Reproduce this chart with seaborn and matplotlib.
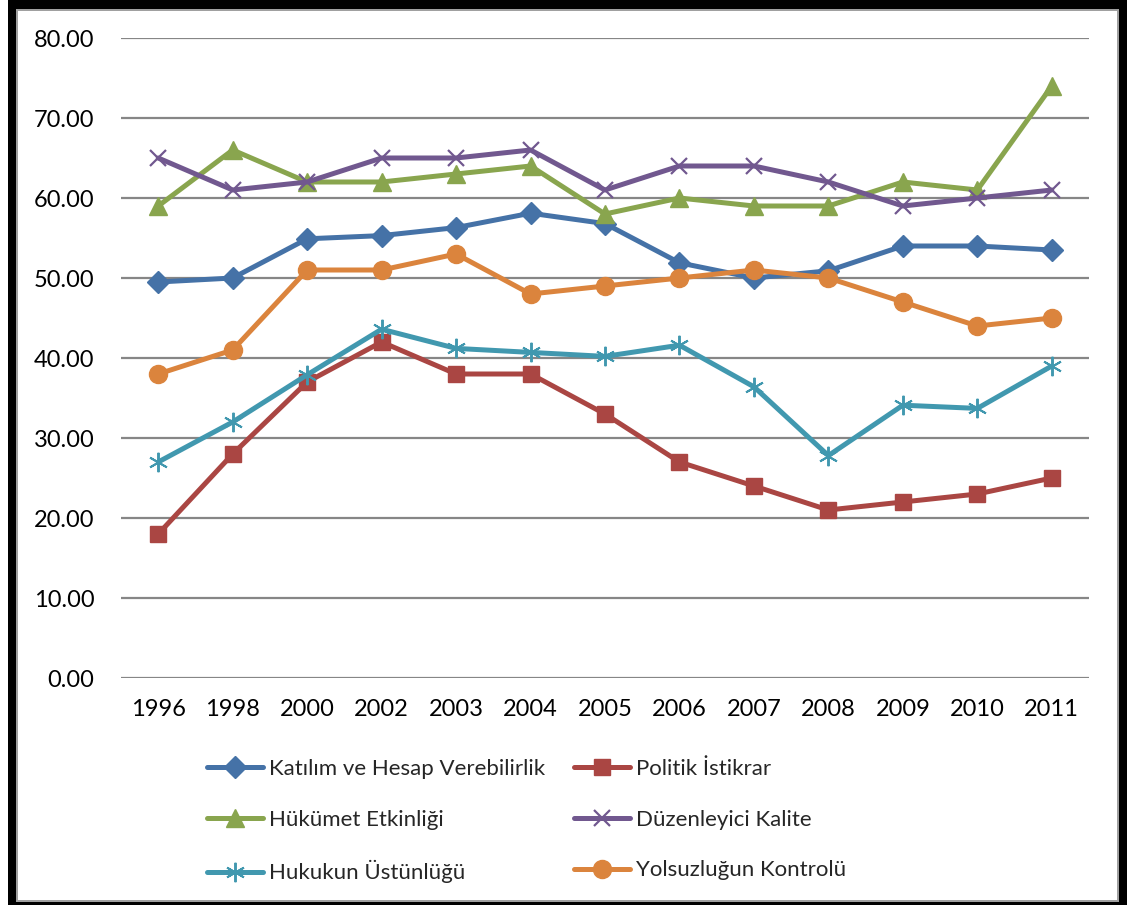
import matplotlib
matplotlib.use("Agg")
import matplotlib.pyplot as plt
from matplotlib.patches import Rectangle
import seaborn as sns
import pandas as pd

years = ["1996", "1998", "2000", "2002", "2003", "2004", "2005",
         "2006", "2007", "2008", "2009", "2010", "2011"]
katilim = [49.5, 50.0, 54.9, 55.3, 56.3, 58.1, 56.8, 51.9, 50.0, 50.9, 54.0, 54.0, 53.5]
politik = [18, 28, 37, 42, 38, 38, 33, 27, 24, 21, 22, 23, 25]
hukumet = [59, 66, 62, 62, 63, 64, 58, 60, 59, 59, 62, 61, 74]
duzenleyici = [65, 61, 62, 65, 65, 66, 61, 64, 64, 62, 59, 60, 61]
hukukun = [27.0, 32.0, 37.9, 43.6, 41.2, 40.7, 40.2, 41.6, 36.4, 27.8, 34.1, 33.7, 39.0]
yolsuzluk = [38, 41, 51, 51, 53, 48, 49, 50, 51, 50, 47, 44, 45]

names = ["Katılım ve Hesap Verebilirlik", "Politik İstikrar", "Hükümet Etkinliği",
         "Düzenleyici Kalite", "Hukukun Üstünlüğü", "Yolsuzluğun Kontrolü"]
series = [katilim, politik, hukumet, duzenleyici, hukukun, yolsuzluk]
colors = ["#4572A7", "#AA4643", "#89A54E", "#71588F", "#4198AF", "#DB843D"]
markers = ["D", "s", "^", "x", (6, 2, 0), "o"]
msizes = [11, 12, 13, 12, 14, 13]
mews = [1, 1, 1, 1.6, 1.4, 1]

sns.set_theme(style="white")
plt.rcParams["font.family"] = ["Lato", "DejaVu Sans"]

W, H = 1127, 905
fig = plt.figure(figsize=(W / 100, H / 100), dpi=100)
fig.patch.set_facecolor("white")

# frame
fig.patches.append(Rectangle((8 / W, 0), 1 - 8 / W, 1, transform=fig.transFigure,
                             facecolor="black", edgecolor="none", zorder=-10))
fig.patches.append(Rectangle((16 / W, 3 / H), (1119 - 16) / W, (896 - 3) / H,
                             transform=fig.transFigure, facecolor="#A0A0A0",
                             edgecolor="none", zorder=-9))
fig.patches.append(Rectangle((18 / W, 5 / H), (1117 - 18) / W, (894 - 5) / H,
                             transform=fig.transFigure, facecolor="white",
                             edgecolor="none", zorder=-8))

ax = fig.add_axes([121 / W, 1 - 678 / H, (1089 - 121) / W, (678 - 38) / H])
ax.set_facecolor("none")

handles = []
for name, vals, c, m, ms, mew in zip(names, series, colors, markers, msizes, mews):
    df = pd.DataFrame({"Yıl": years, "Değer": vals})
    sns.lineplot(data=df, x="Yıl", y="Değer", ax=ax, color=c, linewidth=3.6,
                 marker=m, markersize=ms, markeredgecolor=c, markerfacecolor=c,
                 markeredgewidth=mew, label=name, legend=False, zorder=3)
    handles.append(ax.lines[-1])

ax.set_xlim(-0.5, len(years) - 0.5)
ax.set_ylim(0, 80)
ax.set_yticks(range(0, 81, 10))
ax.set_yticklabels([f"{v:.2f}" for v in range(0, 81, 10)])
ax.grid(axis="y", color="#868686", linewidth=1.6, zorder=0)
ax.grid(axis="x", visible=False)
for s in ax.spines.values():
    s.set_visible(False)
ax.tick_params(axis="y", length=0, pad=19, labelsize=17, labelcolor="black")
ax.tick_params(axis="x", length=0, pad=15, labelsize=17, labelcolor="black")
ax.set_xlabel("")
ax.set_ylabel("")

order = [0, 2, 4, 1, 3, 5]
leg = fig.legend([handles[i] for i in order], [names[i] for i in order],
                 loc="upper left", bbox_to_anchor=(207 / W, 1 - 759 / H),
                 ncol=2, frameon=False, fontsize=16, handlelength=2.5,
                 handletextpad=0.3, columnspacing=1.3, labelspacing=1.38,
                 borderpad=0, borderaxespad=0)

fig.savefig("out.png", dpi=100)
